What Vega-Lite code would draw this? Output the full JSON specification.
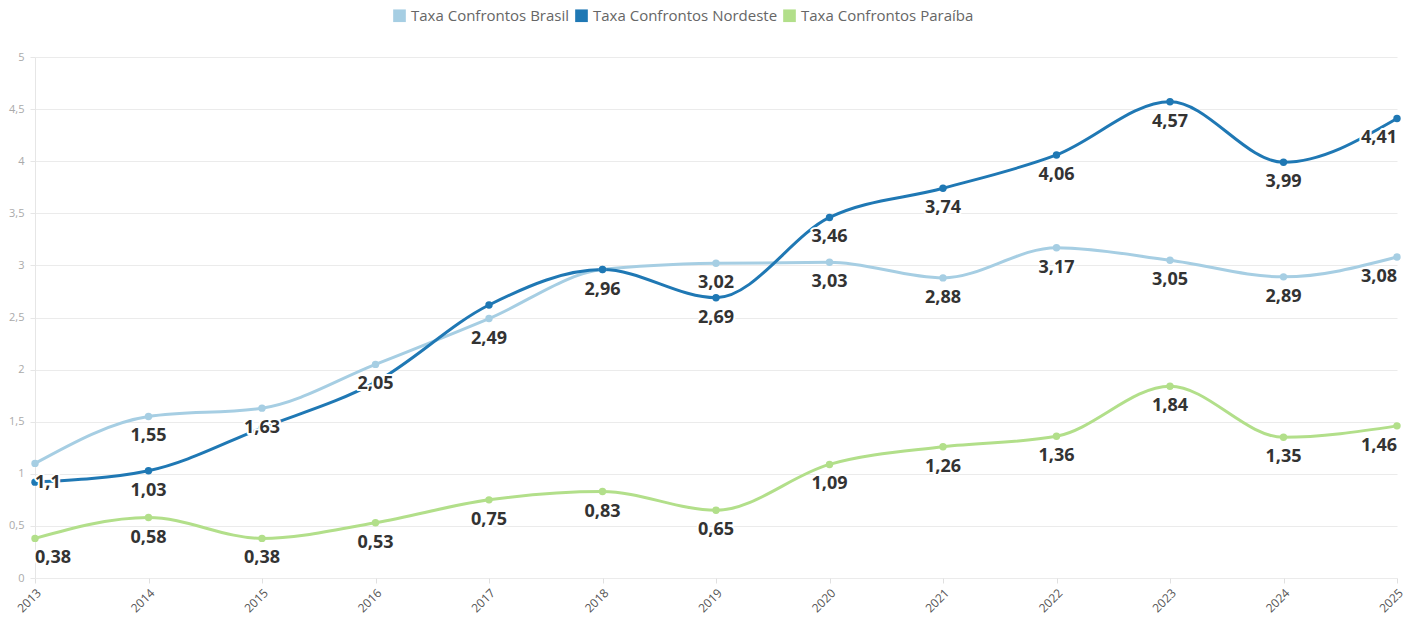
{
  "$schema": "https://vega.github.io/schema/vega-lite/v6.json",
  "width": 1362,
  "height": 521,
  "autosize": "none",
  "padding": {"left": 35, "top": 57, "right": 6, "bottom": 45},
  "background": "white",
  "config": {
    "locale": {"number": {"decimal": ",", "thousands": ".", "grouping": [3], "currency": ["R$", ""]}},
    "view": {"stroke": null},
    "font": "Open Sans"
  },
  "data": {"values": [
    {"ano": "2013", "serie": "Taxa Confrontos Brasil", "valor": 1.1, "rotulo": true},
    {"ano": "2014", "serie": "Taxa Confrontos Brasil", "valor": 1.55, "rotulo": true},
    {"ano": "2015", "serie": "Taxa Confrontos Brasil", "valor": 1.63, "rotulo": true},
    {"ano": "2016", "serie": "Taxa Confrontos Brasil", "valor": 2.05, "rotulo": true},
    {"ano": "2017", "serie": "Taxa Confrontos Brasil", "valor": 2.49, "rotulo": true},
    {"ano": "2018", "serie": "Taxa Confrontos Brasil", "valor": 2.96, "rotulo": false},
    {"ano": "2019", "serie": "Taxa Confrontos Brasil", "valor": 3.02, "rotulo": true},
    {"ano": "2020", "serie": "Taxa Confrontos Brasil", "valor": 3.03, "rotulo": true},
    {"ano": "2021", "serie": "Taxa Confrontos Brasil", "valor": 2.88, "rotulo": true},
    {"ano": "2022", "serie": "Taxa Confrontos Brasil", "valor": 3.17, "rotulo": true},
    {"ano": "2023", "serie": "Taxa Confrontos Brasil", "valor": 3.05, "rotulo": true},
    {"ano": "2024", "serie": "Taxa Confrontos Brasil", "valor": 2.89, "rotulo": true},
    {"ano": "2025", "serie": "Taxa Confrontos Brasil", "valor": 3.08, "rotulo": true},
    {"ano": "2013", "serie": "Taxa Confrontos Nordeste", "valor": 0.92, "rotulo": false},
    {"ano": "2014", "serie": "Taxa Confrontos Nordeste", "valor": 1.03, "rotulo": true},
    {"ano": "2015", "serie": "Taxa Confrontos Nordeste", "valor": 1.44, "rotulo": false},
    {"ano": "2016", "serie": "Taxa Confrontos Nordeste", "valor": 1.88, "rotulo": false},
    {"ano": "2017", "serie": "Taxa Confrontos Nordeste", "valor": 2.62, "rotulo": false},
    {"ano": "2018", "serie": "Taxa Confrontos Nordeste", "valor": 2.96, "rotulo": true},
    {"ano": "2019", "serie": "Taxa Confrontos Nordeste", "valor": 2.69, "rotulo": true},
    {"ano": "2020", "serie": "Taxa Confrontos Nordeste", "valor": 3.46, "rotulo": true},
    {"ano": "2021", "serie": "Taxa Confrontos Nordeste", "valor": 3.74, "rotulo": true},
    {"ano": "2022", "serie": "Taxa Confrontos Nordeste", "valor": 4.06, "rotulo": true},
    {"ano": "2023", "serie": "Taxa Confrontos Nordeste", "valor": 4.57, "rotulo": true},
    {"ano": "2024", "serie": "Taxa Confrontos Nordeste", "valor": 3.99, "rotulo": true},
    {"ano": "2025", "serie": "Taxa Confrontos Nordeste", "valor": 4.41, "rotulo": true},
    {"ano": "2013", "serie": "Taxa Confrontos Paraíba", "valor": 0.38, "rotulo": true},
    {"ano": "2014", "serie": "Taxa Confrontos Paraíba", "valor": 0.58, "rotulo": true},
    {"ano": "2015", "serie": "Taxa Confrontos Paraíba", "valor": 0.38, "rotulo": true},
    {"ano": "2016", "serie": "Taxa Confrontos Paraíba", "valor": 0.53, "rotulo": true},
    {"ano": "2017", "serie": "Taxa Confrontos Paraíba", "valor": 0.75, "rotulo": true},
    {"ano": "2018", "serie": "Taxa Confrontos Paraíba", "valor": 0.83, "rotulo": true},
    {"ano": "2019", "serie": "Taxa Confrontos Paraíba", "valor": 0.65, "rotulo": true},
    {"ano": "2020", "serie": "Taxa Confrontos Paraíba", "valor": 1.09, "rotulo": true},
    {"ano": "2021", "serie": "Taxa Confrontos Paraíba", "valor": 1.26, "rotulo": true},
    {"ano": "2022", "serie": "Taxa Confrontos Paraíba", "valor": 1.36, "rotulo": true},
    {"ano": "2023", "serie": "Taxa Confrontos Paraíba", "valor": 1.84, "rotulo": true},
    {"ano": "2024", "serie": "Taxa Confrontos Paraíba", "valor": 1.35, "rotulo": true},
    {"ano": "2025", "serie": "Taxa Confrontos Paraíba", "valor": 1.46, "rotulo": true}
  ]},
  "encoding": {
    "x": {
      "field": "ano", "type": "ordinal",
      "scale": {"type": "point", "padding": 0},
      "axis": {
        "title": null, "labelAngle": -45, "labelFontSize": 12, "labelColor": "#555",
        "domain": false, "grid": false, "ticks": true, "tickColor": "#e0e0e0", "tickSize": 5,
        "labelPadding": 4, "labelBound": false, "labelOverlap": false
      }
    },
    "y": {
      "field": "valor", "type": "quantitative",
      "scale": {"domain": [0, 5], "nice": false},
      "axis": {
        "title": null, "values": [0, 0.5, 1, 1.5, 2, 2.5, 3, 3.5, 4, 4.5, 5],
        "format": ".1~f", "labelFontSize": 11, "labelColor": "#aaa",
        "domain": true, "domainColor": "#e6e6e6", "gridColor": "#ebebeb",
        "tickColor": "#e6e6e6", "tickSize": 5, "labelPadding": 6
      }
    },
    "color": {
      "field": "serie", "type": "nominal",
      "scale": {
        "domain": ["Taxa Confrontos Brasil", "Taxa Confrontos Nordeste", "Taxa Confrontos Paraíba"],
        "range": ["#a6cee3", "#1f78b4", "#b2df8a"]
      },
      "legend": {
        "title": null, "orient": "none", "direction": "horizontal",
        "legendX": 357, "legendY": -49,
        "symbolType": "square", "symbolSize": 160, "symbolStrokeWidth": 0,
        "labelFontSize": 15, "labelColor": "#666", "columnPadding": 4, "labelOffset": 4,
        "labelLimit": 0
      }
    }
  },
  "layer": [
    {"mark": {"type": "line", "interpolate": "monotone", "strokeWidth": 3}},
    {"mark": {"type": "point", "filled": true, "size": 55, "opacity": 1}},
    {
      "transform": [{"filter": "datum.rotulo"}],
      "mark": {
        "type": "text", "fontSize": 18, "fontWeight": "bold", "dy": 20, "baseline": "middle",
        "stroke": "white", "strokeWidth": 4, "fill": "white", "strokeJoin": "round",
        "align": {"expr": "datum.ano === '2013' ? 'left' : datum.ano === '2025' ? 'right' : 'center'"}
      },
      "encoding": {"text": {"field": "valor", "type": "quantitative", "format": ".2~f"}, "color": {"value": "white"}}
    },
    {
      "transform": [{"filter": "datum.rotulo"}],
      "mark": {
        "type": "text", "fontSize": 18, "fontWeight": "bold", "dy": 20, "baseline": "middle",
        "align": {"expr": "datum.ano === '2013' ? 'left' : datum.ano === '2025' ? 'right' : 'center'"}
      },
      "encoding": {"text": {"field": "valor", "type": "quantitative", "format": ".2~f"}, "color": {"value": "#333333"}}
    }
  ]
}
